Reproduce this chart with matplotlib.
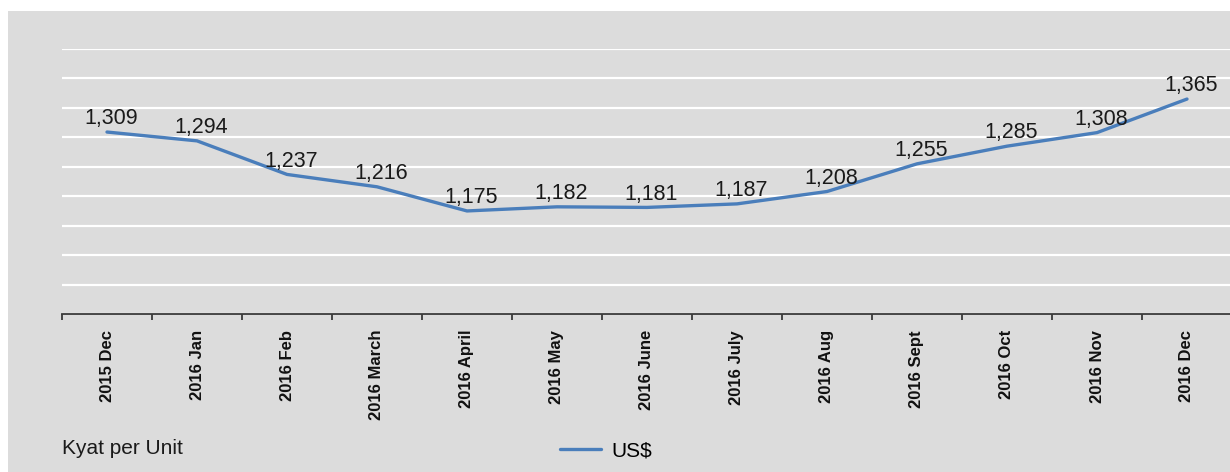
import matplotlib
matplotlib.use("Agg")
import matplotlib.pyplot as plt
from matplotlib.patches import Rectangle
from matplotlib.ticker import MultipleLocator, FixedLocator

categories = ["2015 Dec", "2016 Jan", "2016 Feb", "2016 March", "2016 April",
              "2016 May", "2016 June", "2016 July", "2016 Aug", "2016 Sept",
              "2016 Oct", "2016 Nov", "2016 Dec"]
usd_values = [1309, 1294, 1237, 1216, 1175, 1182, 1181, 1187, 1208, 1255,
              1285, 1308, 1365]
series_name = "US$"
unit_label = "Kyat per Unit"

plt.rcParams['font.family'] = ['Liberation Sans', 'DejaVu Sans']

W, H = 1230, 472
fig = plt.figure(figsize=(W / 100, H / 100), dpi=100, facecolor='white')
bg = '#dcdcdc'
fig.patches.append(Rectangle((8 / W, 0), 1 - 8 / W, 1 - 11 / H,
                             transform=fig.transFigure, facecolor=bg,
                             edgecolor='none', zorder=-10))

ax = fig.add_axes([62 / W, 158 / H, 1170 / W, 265 / H])
ax.set_facecolor('none')
n = len(categories)
x = list(range(n))
ax.plot(x, usd_values, color='#4a7ebb', lw=2.4, solid_joinstyle='round',
        solid_capstyle='round', zorder=3, label=series_name)
for xi, v in zip(x, usd_values):
    ax.annotate(f"{v:,}", (xi, v), xytext=(3, 9.5), textcoords='offset points',
                ha='center', va='center', fontsize=15.5, color='#1a1a1a', zorder=4)

ax.set_xlim(-0.5, n - 0.5)
ax.set_ylim(1000, 1450)
ax.yaxis.set_major_locator(MultipleLocator(50))
ax.grid(axis='y', color='white', lw=1.6)
ax.set_axisbelow(True)
ax.tick_params(axis='y', left=False, labelleft=False)
for s in ['left', 'right', 'top']:
    ax.spines[s].set_visible(False)
ax.spines['bottom'].set_color('#3a3a3a')
ax.spines['bottom'].set_linewidth(1.3)

ax.xaxis.set_major_locator(FixedLocator(x))
ax.set_xticklabels(categories, rotation=90, fontweight='bold', fontsize=12,
                   color='#111111', va='top', ha='center')
ax.tick_params(axis='x', which='major', length=0, pad=11.5)
ax.xaxis.set_minor_locator(FixedLocator([i - 0.5 for i in range(n + 1)]))
ax.tick_params(axis='x', which='minor', length=4, width=1.3, color='#3a3a3a',
               direction='out')

fig.text(62 / W, 1 - 448 / H, unit_label, fontsize=15, color='#1a1a1a',
         ha='left', va='center')
fig.legend(loc='center', bbox_to_anchor=(606 / W, 1 - 451 / H), frameon=False,
           fontsize=15, handlelength=2.0, handletextpad=0.5)

fig.savefig('out.png', dpi=100, facecolor='white')
